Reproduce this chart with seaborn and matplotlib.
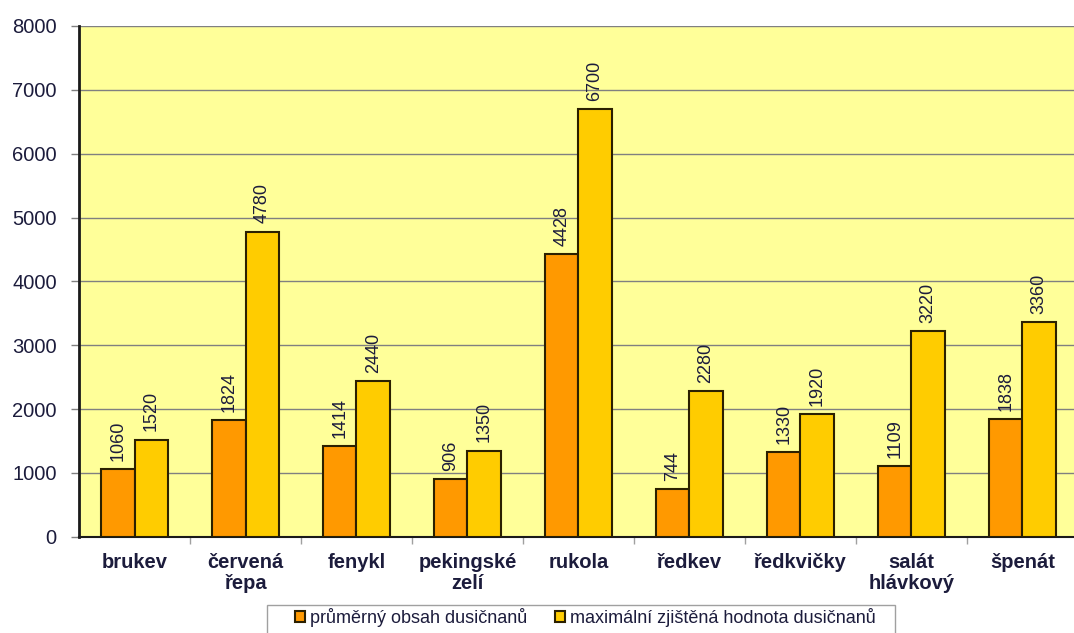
import pandas as pd
import seaborn as sns
import matplotlib.pyplot as plt
from matplotlib.patches import Rectangle
from matplotlib.ticker import MultipleLocator, FixedLocator

# === Data ===
categories = ['brukev', 'červená\nřepa', 'fenykl', 'pekingské\nzelí', 'rukola',
              'ředkev', 'ředkvičky', 'salát\nhlávkový', 'špenát']
avg_values = [1060, 1824, 1414, 906, 4428, 744, 1330, 1109, 1838]
max_values = [1520, 4780, 2440, 1350, 6700, 2280, 1920, 3220, 3360]
series_names = ['průměrný obsah dusičnanů', 'maximální zjištěná hodnota dusičnanů']

df = pd.DataFrame({
    'kategorie': categories * 2,
    'hodnota': avg_values + max_values,
    'serie': [series_names[0]] * len(categories) + [series_names[1]] * len(categories),
})

plt.rcParams['font.family'] = ['Liberation Sans', 'DejaVu Sans']
text_col = '#1c1c3c'

fig = plt.figure(figsize=(10.74, 6.33), dpi=100)
ax = fig.add_axes([0.0736, 0.152, 0.93, 0.807])
ax.set_facecolor('#FFFF99')

sns.barplot(data=df, x='kategorie', y='hodnota', hue='serie',
            palette=['#FF9900', '#FFCC00'], width=0.6, saturation=1,
            edgecolor='#2b2000', linewidth=1.5, ax=ax, zorder=3)

for cont in ax.containers:
    ax.bar_label(cont, labels=[str(int(v)) for v in cont.datavalues],
                 rotation=90, padding=6, fontsize=13, color=text_col)

ax.set_ylim(0, 8000)
ax.set_xlim(-0.5, len(categories) - 0.5)
ax.yaxis.set_major_locator(MultipleLocator(1000))
ax.grid(axis='y', color='#808080', linewidth=1, zorder=0)
ax.set_axisbelow(True)

ax.set_xlabel('')
ax.set_ylabel('')
ax.tick_params(axis='y', labelsize=14.5, labelcolor=text_col, color='#808080',
               length=6, width=1, pad=10)
ax.tick_params(axis='x', which='major', length=0, pad=12)
ax.xaxis.set_minor_locator(FixedLocator([i + 0.5 for i in range(len(categories) - 1)]))
ax.tick_params(axis='x', which='minor', length=5, color='#a0a0a0', width=1)
for lbl in ax.get_xticklabels():
    lbl.set_fontweight('bold')
    lbl.set_fontsize(14.5)
    lbl.set_color(text_col)
    lbl.set_multialignment('center')
    lbl.set_linespacing(1.1)

for side in ['top', 'right']:
    ax.spines[side].set_visible(False)
ax.spines['left'].set_linewidth(2)
ax.spines['left'].set_color('#1a1a1a')
ax.spines['bottom'].set_linewidth(1.5)
ax.spines['bottom'].set_color('#1a1a1a')

# legend: box drawn separately (it runs off the bottom edge in the original)
handles, labels = ax.get_legend_handles_labels()
ax.get_legend().remove()
leg = fig.legend(handles, labels, loc='center left',
                 bbox_to_anchor=(0.2747, 0.025), bbox_transform=fig.transFigure,
                 ncol=2, frameon=False, fontsize=13, borderpad=0, borderaxespad=0,
                 handlelength=0.55, handleheight=0.55, handletextpad=0.28,
                 columnspacing=1.55)
for t in leg.get_texts():
    t.set_color(text_col)
fig.patches.append(Rectangle((267 / 1074, -0.02), (895 - 267) / 1074, 0.065,
                             transform=fig.transFigure, facecolor='none',
                             edgecolor='#a0a0a0', linewidth=1))

fig.savefig('out.png', dpi=100)
